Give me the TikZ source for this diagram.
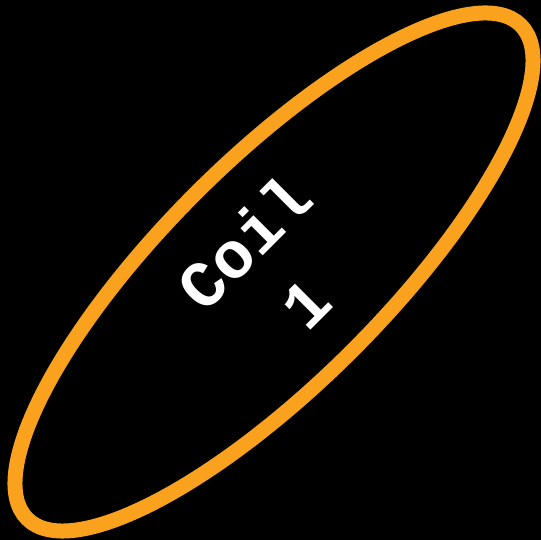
\documentclass[tikz,border=0pt]{standalone}
\usepackage{fontspec}
\newfontfamily\coilfont{Liberation Mono}
\usetikzlibrary{shapes.geometric}
\definecolor{coilorange}{RGB}{250,162,30}

\begin{document}
\begin{tikzpicture}[
  x=1pt,y=1pt,
  every node/.style={align=center},
  coil/.style={ellipse,draw=coilorange,line width=15pt,
               minimum width=698pt,minimum height=222pt,inner sep=0pt,
               text=white,font=\coilfont\bfseries\fontsize{66}{86}\selectfont}
]
\fill[black] (0,0) rectangle (541,540);
\useasboundingbox (0,0) rectangle (541,540);
\node[coil,rotate=45] (coil1) at (274,268) {Coil\\1};
\end{tikzpicture}
\end{document}
